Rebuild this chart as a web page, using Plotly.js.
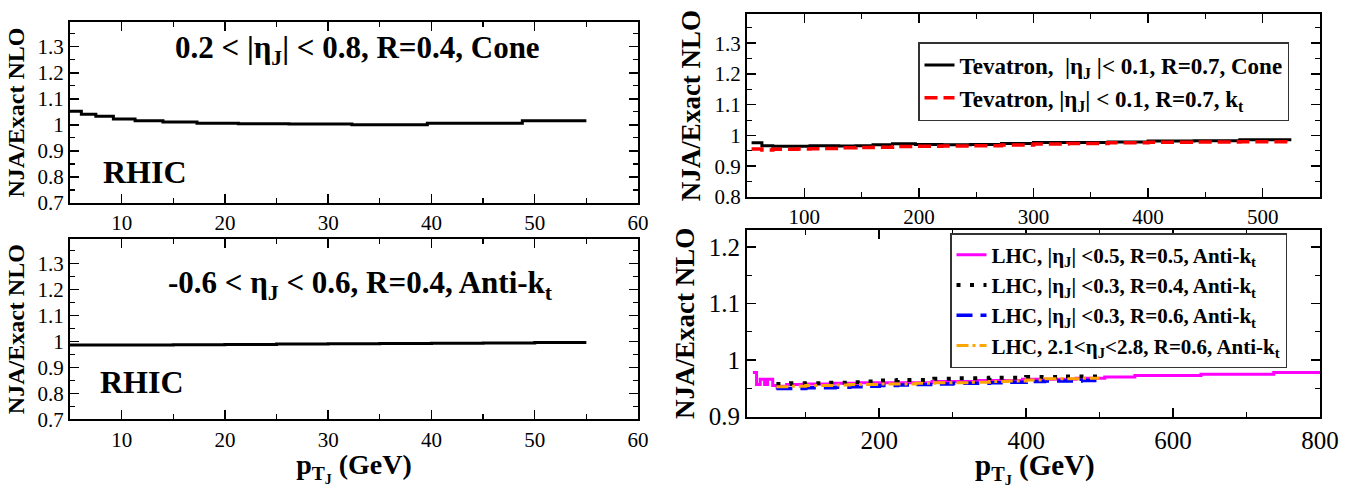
<!DOCTYPE html>
<html>
<head>
<meta charset="utf-8">
<script src="https://cdn.plot.ly/plotly-3.0.1.min.js"></script>
<style>
html,body{margin:0;padding:0;background:#fff;}
#chart{width:1354px;height:487px;}
</style>
</head>
<body>
<div id="chart"></div>
<script>
// ---------- DATA ----------
// RHIC, 0.2<|eta_J|<0.8, R=0.4, Cone  (bin edges in GeV, ratio per bin)
const rhicConeEdges = [5, 6.1, 7.5, 9.2, 11.3, 14, 17.3, 21.3, 26.2, 32.3, 39.6, 48.8, 55];
const rhicConeRatio = [1.052, 1.041, 1.033, 1.023, 1.016, 1.011, 1.006, 1.004, 1.003, 1.000, 1.006, 1.016];

// RHIC, -0.6<eta_J<0.6, R=0.4, Anti-kt
const rhicAktEdges = [5, 10, 15, 20, 25, 30, 35, 40, 45, 50, 55];
const rhicAktRatio = [0.986, 0.986, 0.987, 0.988, 0.990, 0.991, 0.992, 0.993, 0.994, 0.996];

// Tevatron
const tevEdges = [54, 63, 72.5, 83, 94, 105, 117, 130, 145, 160, 177, 197, 220, 245, 272, 300, 330, 365, 400, 440, 480, 525];
const tevConeRatio = [0.976, 0.967, 0.965, 0.965, 0.965, 0.967, 0.967, 0.966, 0.967, 0.970, 0.973, 0.971, 0.970, 0.971, 0.974, 0.977, 0.977, 0.979, 0.982, 0.983, 0.986];
const tevKtRatio   = [0.956, 0.953, 0.955, 0.955, 0.956, 0.957, 0.958, 0.960, 0.961, 0.962, 0.964, 0.965, 0.966, 0.967, 0.969, 0.972, 0.974, 0.976, 0.978, 0.979, 0.980];

// LHC |eta_J|<0.5, R=0.5, Anti-kt
const lhcR05Edges = [28, 33, 38, 44, 48, 55, 61, 67, 74, 97, 133, 174, 220, 272, 330, 395, 468, 507, 548, 638, 737, 800];
const lhcR05Ratio = [0.978, 0.957, 0.966, 0.957, 0.966, 0.955, 0.951, 0.954, 0.957, 0.958, 0.959, 0.960, 0.960, 0.962, 0.964, 0.966, 0.968, 0.970, 0.973, 0.975, 0.978];

// LHC central jets (|eta_J|<0.3) and forward (2.1<eta_J<2.8)
const lhcEdges = [60, 80, 100, 120, 140, 160, 180, 200, 225, 250, 275, 300, 325, 350, 375, 400, 425, 450, 475, 500];
const lhcR04Ratio  = [0.958, 0.959, 0.959, 0.960, 0.960, 0.961, 0.962, 0.964, 0.965, 0.965, 0.967, 0.968, 0.968, 0.969, 0.969, 0.970, 0.970, 0.971, 0.971];
const lhcR06Ratio  = [0.950, 0.950, 0.951, 0.951, 0.952, 0.953, 0.954, 0.955, 0.956, 0.957, 0.958, 0.959, 0.959, 0.960, 0.961, 0.962, 0.963, 0.963, 0.964];
const lhcFwdRatio  = [0.953, 0.954, 0.955, 0.955, 0.956, 0.957, 0.957, 0.958, 0.958, 0.959, 0.960, 0.960, 0.961, 0.962, 0.963, 0.965, 0.967, 0.967, 0.968];

const xTicksRHIC = [10, 20, 30, 40, 50, 60];
const xTicksTev = [100, 200, 300, 400, 500];
const xTicksLHC = [200, 400, 600, 800];

// ---------- helpers ----------
const W = 1354, H = 487;
const serif = 'Liberation Serif';
function stepY(vals){ return vals.concat([vals[vals.length-1]]); }
function dx(a,b){ return [a/W, b/W]; }
function dy(top,bottom){ return [1-bottom/H, 1-top/H]; }

const traces = [
  {x: rhicConeEdges, y: stepY(rhicConeRatio), xaxis:'x', yaxis:'y', mode:'lines',
   line:{shape:'hv', color:'#000', width:3}, showlegend:false, name:'RHIC Cone'},
  {x: rhicAktEdges, y: stepY(rhicAktRatio), xaxis:'x2', yaxis:'y2', mode:'lines',
   line:{shape:'hv', color:'#000', width:3}, showlegend:false, name:'RHIC Anti-kt'},
  {x: tevEdges, y: stepY(tevConeRatio), xaxis:'x3', yaxis:'y3', mode:'lines',
   line:{shape:'hv', color:'#000', width:3}, legend:'legend',
   name:'Tevatron,  |η<sub>J</sub> |< 0.1, R=0.7, Cone'},
  {x: tevEdges, y: stepY(tevKtRatio), xaxis:'x3', yaxis:'y3', mode:'lines',
   line:{shape:'hv', color:'#ff0000', width:3.5, dash:'13px,6px'}, legend:'legend',
   name:'Tevatron, |η<sub>J</sub>| < 0.1, R=0.7, k<sub>t</sub>'},
  {x: lhcR05Edges, y: stepY(lhcR05Ratio), xaxis:'x4', yaxis:'y4', mode:'lines',
   line:{shape:'hv', color:'#ff00ff', width:3}, legend:'legend2',
   name:'LHC, |η<sub>J</sub>| <0.5, R=0.5, Anti-k<sub>t</sub>'},
  {x: lhcEdges, y: stepY(lhcR04Ratio), xaxis:'x4', yaxis:'y4', mode:'lines',
   line:{shape:'hv', color:'#000', width:4, dash:'4px,9.5px'}, legend:'legend2',
   name:'LHC, |η<sub>J</sub>| <0.3, R=0.4, Anti-k<sub>t</sub>'},
  {x: lhcEdges, y: stepY(lhcR06Ratio), xaxis:'x4', yaxis:'y4', mode:'lines',
   line:{shape:'hv', color:'#0000ff', width:3.5, dash:'16px,8px'}, legend:'legend2',
   name:'LHC, |η<sub>J</sub>| <0.3, R=0.6, Anti-k<sub>t</sub>'},
  {x: lhcEdges, y: stepY(lhcFwdRatio), xaxis:'x4', yaxis:'y4', mode:'lines',
   line:{shape:'hv', color:'#ffa500', width:3, dash:'12px,4px,3px,4px'}, legend:'legend2',
   name:'LHC, 2.1<η<sub>J</sub><2.8, R=0.6, Anti-k<sub>t</sub>'}
];

function xax(domain, range, tickvals, minorDtick, fsize, anchor, title){
  const a = {domain: domain, range: range, anchor: anchor, tickvals: tickvals,
    ticks:'inside', ticklen:9, tickwidth:1.5, tickcolor:'#000',
    showline:true, linewidth:2, linecolor:'#000', mirror:'allticks',
    showgrid:false, zeroline:false,
    tickfont:{family:serif, size:fsize, color:'#000'},
    minor:{dtick:minorDtick, ticks:'inside', ticklen:5, tickwidth:1.2, tickcolor:'#000', showgrid:false}};
  if (title) a.title = title;
  return a;
}
function yax(domain, range, fsize, anchor, titleSize, standoff){
  return {domain: domain, range: range, anchor: anchor, dtick:0.1, tick0:0,
    ticks:'inside', ticklen:9, tickwidth:1.5, tickcolor:'#000',
    showline:true, linewidth:2, linecolor:'#000', mirror:'allticks',
    showgrid:false, zeroline:false,
    tickfont:{family:serif, size:fsize, color:'#000'},
    minor:{dtick:0.05, ticks:'inside', ticklen:5, tickwidth:1.2, tickcolor:'#000', showgrid:false},
    title:{text:'NJA/Exact NLO', standoff:standoff,
      font:{family:serif, size:titleSize, weight:'bold', color:'#000'}}};
}

const ptText = 'p<sub>T<sub>J</sub></sub> (GeV)';
const ptTitle = (sz, so)=>({text:ptText, standoff:so,
  font:{family:serif, size:sz, weight:'bold', color:'#000'}});

const layout = {
  width: W, height: H,
  margin:{l:0, r:0, t:0, b:0},
  paper_bgcolor:'#fff', plot_bgcolor:'#fff',
  showlegend:true,
  xaxis:  xax(dx(70,638), [5,60], xTicksRHIC, 5, 21, 'y'),
  yaxis:  yax(dy(22,203), [0.7,1.395], 21, 'x', 24, 6),
  xaxis2: xax(dx(70,638), [5,60], xTicksRHIC, 5, 21, 'y2', ptTitle(28, 1)),
  yaxis2: yax(dy(239,419.3), [0.7,1.395], 21, 'x2', 24, 6),
  xaxis3: xax(dx(747,1320), [50,550], xTicksTev, 50, 21, 'y3'),
  yaxis3: yax(dy(14,197), [0.8,1.395], 21, 'x3', 27, 6),
  xaxis4: xax(dx(747,1320), [20,800], xTicksLHC, 100, 25, 'y4'),
  yaxis4: yax(dy(230,416.7), [0.9,1.23], 25, 'x4', 27, 6),
  legend: {x:918/W, y:1-42/H, xanchor:'left', yanchor:'top', xref:'paper', yref:'paper',
    bgcolor:'#fff', bordercolor:'#333', borderwidth:1.5, itemwidth:30, tracegroupgap:0,
    font:{family:serif, size:23, weight:'bold', color:'#000'}},
  legend2: {x:950/W, y:1-233/H, xanchor:'left', yanchor:'top', xref:'paper', yref:'paper',
    bgcolor:'#fff', bordercolor:'#333', borderwidth:1.5, itemwidth:30, tracegroupgap:0,
    font:{family:serif, size:21, weight:'bold', color:'#000'}},
  annotations:[
    {text:'0.2 < |η<sub>J</sub>| < 0.8, R=0.4, Cone', xref:'paper', yref:'paper',
     x:357/W, y:1-50/H, xanchor:'center', yanchor:'middle', showarrow:false,
     font:{family:serif, size:31, weight:'bold', color:'#000'}},
    {text:'RHIC', xref:'paper', yref:'paper', x:145/W, y:1-172/H, xanchor:'center', yanchor:'middle',
     showarrow:false, font:{family:serif, size:32, weight:'bold', color:'#000'}},
    {text:'-0.6 < η<sub>J</sub> < 0.6, R=0.4, Anti-k<sub>t</sub>', xref:'paper', yref:'paper',
     x:360/W, y:1-285/H, xanchor:'center', yanchor:'middle', showarrow:false,
     font:{family:serif, size:31, weight:'bold', color:'#000'}},
    {text:'RHIC', xref:'paper', yref:'paper', x:142/W, y:1-382/H, xanchor:'center', yanchor:'middle',
     showarrow:false, font:{family:serif, size:32, weight:'bold', color:'#000'}},
    {text:ptText, xref:'paper', yref:'paper', x:1035/W, y:0, xanchor:'center', yanchor:'bottom',
     yshift:-2, showarrow:false, borderpad:0, font:{family:serif, size:29, weight:'bold', color:'#000'}}
  ]
};

Plotly.newPlot('chart', traces, layout, {displayModeBar:false, staticPlot:true});
</script>
</body>
</html>
